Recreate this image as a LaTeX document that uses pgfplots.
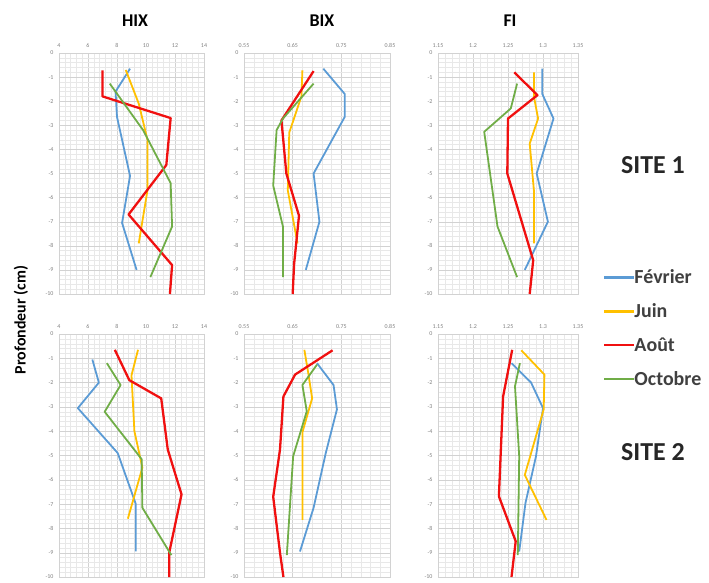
\documentclass[border=0pt]{standalone}
\usepackage{pgfplots}
\pgfplotsset{compat=1.18}
\usepackage{fontspec}
\setmainfont{Carlito}
\definecolor{cBlue}{HTML}{5B9BD5}
\definecolor{cYel}{HTML}{FFC000}
\definecolor{cRed}{HTML}{F01010}
\definecolor{cGreen}{HTML}{70AD47}
\definecolor{txt}{HTML}{404040}
\pgfplotsset{
  panel/.style={
    scale only axis, anchor=north west,
    ymin=-10, ymax=0, ytick={-10,-9,...,0},
    xticklabel pos=top,
    tick label style={font=\fontsize{6}{6}\selectfont, text=gray},
    /pgf/number format/assume math mode=true,
    grid=both, major grid style={gray!35, line width=0.4pt},
    minor grid style={gray!18, line width=0.3pt},
    minor x tick num=4, minor y tick num=4,
    axis line style={gray!35}, tick style={draw=none},
    yticklabel style={xshift=-2bp},
    xticklabel style={yshift=2bp},
  },
  hix/.style={panel, xmin=4, xmax=14, xtick={4,6,...,14}, width=145bp},
  bix/.style={panel, xmin=0.55, xmax=0.85, xtick={0.55,0.65,0.75,0.85}, xticklabels={0.55,0.65,0.75,0.85}, width=146bp},
  fi/.style={panel, xmin=1.15, xmax=1.35, xtick={1.15,1.2,1.25,1.3,1.35}, xticklabels={1.15,1.2,1.25,1.3,1.35}, width=140bp},
  fev/.style={cBlue, line width=1.8pt, line join=round},
  juin/.style={cYel, line width=1.8pt, line join=round},
  aout/.style={cRed, line width=2.3pt, line join=round},
  oct/.style={cGreen, line width=1.8pt, line join=round},
}
\begin{document}
\begin{tikzpicture}
\path (0bp,0bp) rectangle (709bp,-581bp);
% ---------- SITE 1 ----------
\begin{axis}[hix, at={(59bp,-53bp)}, height=241bp]
\addplot[fev] coordinates {(8.9,-0.65) (7.9,-1.6) (8.0,-2.65) (8.9,-5.1) (8.35,-7.05) (9.35,-9.0)};
\addplot[juin] coordinates {(8.6,-0.7) (9.5,-2.1) (10.1,-3.6) (10.1,-5.7) (9.5,-7.9)};
\addplot[aout] coordinates {(7.0,-0.72) (7.0,-1.8) (11.7,-2.7) (11.4,-4.65) (8.8,-6.7) (11.8,-8.8) (11.65,-10)};
\addplot[oct] coordinates {(7.5,-1.27) (9.8,-3.2) (11.7,-5.4) (11.8,-7.2) (10.3,-9.3)};
\end{axis}
\begin{axis}[bix, at={(244bp,-53bp)}, height=241bp]
\addplot[fev] coordinates {(0.713,-0.65) (0.757,-1.7) (0.757,-2.65) (0.693,-5.0) (0.705,-7.0) (0.677,-9.0)};
\addplot[juin] coordinates {(0.670,-0.72) (0.668,-1.8) (0.643,-3.3) (0.640,-5.7) (0.660,-7.9)};
\addplot[aout] coordinates {(0.693,-0.75) (0.627,-2.8) (0.637,-5.0) (0.663,-6.75) (0.653,-8.75) (0.650,-10)};
\addplot[oct] coordinates {(0.693,-1.27) (0.630,-2.72) (0.617,-3.2) (0.610,-5.5) (0.630,-7.2) (0.630,-9.3)};
\end{axis}
\begin{axis}[fi, at={(438bp,-53bp)}, height=241bp]
\addplot[fev] coordinates {(1.299,-0.65) (1.299,-1.7) (1.315,-2.72) (1.291,-5.0) (1.307,-7.0) (1.274,-9.0)};
\addplot[juin] coordinates {(1.287,-0.8) (1.287,-1.8) (1.293,-2.72) (1.281,-3.76) (1.287,-5.7) (1.287,-7.9)};
\addplot[aout] coordinates {(1.259,-0.8) (1.292,-1.75) (1.250,-2.72) (1.249,-5.0) (1.286,-8.6) (1.281,-10)};
\addplot[oct] coordinates {(1.263,-1.27) (1.254,-2.3) (1.216,-3.27) (1.235,-7.2) (1.263,-9.3)};
\end{axis}
% ---------- SITE 2 ----------
\begin{axis}[hix, at={(59bp,-334bp)}, height=243bp]
\addplot[fev] coordinates {(6.3,-1.05) (6.75,-2.0) (5.3,-3.05) (8.05,-4.9) (9.3,-7.0) (9.3,-8.95)};
\addplot[juin] coordinates {(9.45,-0.65) (9.0,-1.7) (9.2,-4.0) (9.75,-5.5) (8.75,-7.6)};
\addplot[aout] coordinates {(7.85,-0.65) (8.85,-1.9) (11.05,-2.65) (11.5,-4.75) (12.45,-6.6) (11.6,-9.0) (11.6,-10)};
\addplot[oct] coordinates {(7.3,-1.2) (8.25,-2.1) (7.15,-3.2) (9.7,-5.15) (9.75,-7.15) (11.75,-9.1)};
\end{axis}
\begin{axis}[bix, at={(244bp,-334bp)}, height=243bp]
\addplot[fev] coordinates {(0.700,-1.2) (0.734,-2.1) (0.741,-3.1) (0.718,-4.9) (0.693,-7.15) (0.665,-8.95)};
\addplot[juin] coordinates {(0.674,-0.65) (0.682,-1.6) (0.690,-2.65) (0.670,-4.05) (0.670,-7.65)};
\addplot[aout] coordinates {(0.732,-0.67) (0.655,-1.67) (0.631,-2.57) (0.624,-4.75) (0.610,-6.7) (0.624,-9.0) (0.631,-10)};
\addplot[oct] coordinates {(0.700,-1.26) (0.670,-2.1) (0.679,-3.18) (0.651,-5.03) (0.638,-9.1)};
\end{axis}
\begin{axis}[fi, at={(438bp,-334bp)}, height=243bp,
  legend style={at={(1.155,1.282)}, anchor=north west, draw=none, fill=none,
    font=\bfseries\fontsize{20}{20}\selectfont, text=txt, row sep=14.5bp,
    /tikz/every even column/.append style={column sep=0bp},
    /tikz/every odd column/.append style={column sep=-3bp}},
  legend cell align=left,
  legend image code/.code={\draw[#1, line width=2.6pt] (0bp,0bp) -- (30bp,0bp);}]
\addplot[fev] coordinates {(1.255,-1.2) (1.283,-2.0) (1.300,-3.05) (1.290,-5.03) (1.275,-6.95) (1.266,-8.95)};
\addplot[juin] coordinates {(1.269,-0.67) (1.302,-1.67) (1.301,-3.1) (1.274,-5.8) (1.305,-7.65)};
\addplot[aout] coordinates {(1.256,-0.65) (1.243,-2.57) (1.237,-6.68) (1.261,-8.53) (1.255,-10)};
\addplot[oct] coordinates {(1.267,-1.2) (1.260,-2.15) (1.266,-5.03) (1.264,-9.1)};
\legend{Février,Juin,Août,Octobre}
\end{axis}
% ---------- labels ----------
\node[font=\bfseries\fontsize{18}{18}\selectfont] at (135bp,-21bp) {HIX};
\node[font=\bfseries\fontsize{18}{18}\selectfont] at (322bp,-21bp) {BIX};
\node[font=\bfseries\fontsize{18}{18}\selectfont] at (510bp,-21bp) {FI};
\node[font=\bfseries\fontsize{26}{26}\selectfont, text=black!85] at (653bp,-165bp) {SITE 1};
\node[font=\bfseries\fontsize{26}{26}\selectfont, text=black!85] at (653bp,-452bp) {SITE 2};
\node[font=\bfseries\fontsize{16}{16}\selectfont, rotate=90] at (21bp,-320bp) {Profondeur (cm)};
\end{tikzpicture}
\end{document}
